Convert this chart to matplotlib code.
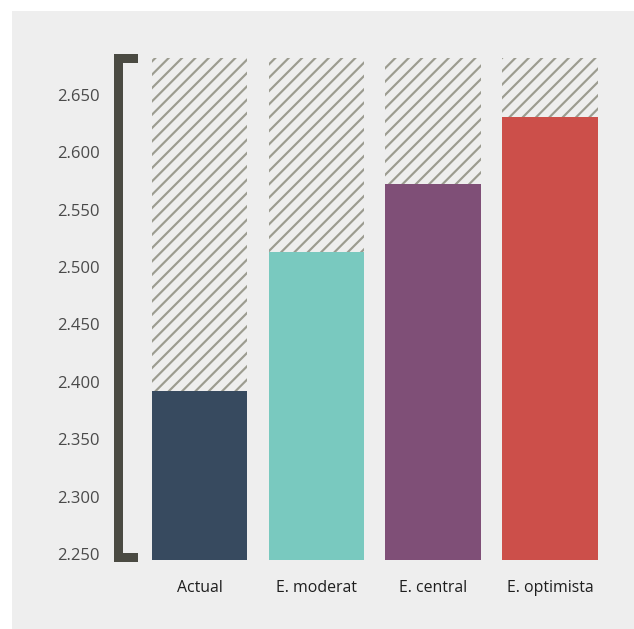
import matplotlib
matplotlib.use("Agg")
import matplotlib.pyplot as plt
from matplotlib.patches import Polygon, Rectangle

categories = ["Actual", "E. moderat", "E. central", "E. optimista"]
values = [2.392, 2.513, 2.5725, 2.631]
cap_value = 2.682
base_value = 2.2448
tick_values = [2.250, 2.300, 2.350, 2.400, 2.450, 2.500, 2.550, 2.600, 2.650]
tick_labels = ["2.250", "2.300", "2.350", "2.400", "2.450", "2.500", "2.550", "2.600", "2.650"]
colors = ["#374a5f", "#79c9bf", "#7f4f77", "#cc4f4a"]

W, H, DPI = 634, 629, 120
plt.rcParams["font.family"] = ["Open Sans", "DejaVu Sans"]
plt.rcParams["hatch.linewidth"] = 1.3
plt.rcParams["hatch.color"] = "#9c9c90"

fig = plt.figure(figsize=(W / DPI, H / DPI), dpi=DPI, facecolor="white")
panel = "#eeeeee"
fig.patches.append(Rectangle((12 / W, 0), 1 - 12 / W, 1 - 11 / H,
                             transform=fig.transFigure, facecolor=panel,
                             edgecolor="none", zorder=-10))

# axes in pixel layout
ax_l, ax_r, ax_t, ax_b = 130, 620, 40, 570
ax = fig.add_axes([ax_l / W, 1 - ax_b / H, (ax_r - ax_l) / W, (ax_b - ax_t) / H])
ax.set_facecolor("none")
s = 116.8
c0 = 199.5
ax.set_xlim((ax_l - c0) / s, (ax_r - c0) / s)
ppu = 1148.0
ax.set_ylim(2.250 - (ax_b - 554) / ppu, 2.250 + (554 - ax_t) / ppu)

x = list(range(len(categories)))
width = 0.818
ax.bar(x, [cap_value - base_value] * len(x), bottom=base_value, width=width,
       facecolor=panel, edgecolor="#9c9c90", linewidth=0, hatch="///", zorder=1)
ax.bar(x, [v - base_value for v in values], bottom=base_value, width=width,
       color=colors, linewidth=0, zorder=2)

for sp in ax.spines.values():
    sp.set_visible(False)
ax.set_yticks(tick_values)
ax.set_yticklabels(tick_labels)
ax.set_xticks(x)
ax.set_xticklabels(categories)
ax.tick_params(axis="y", length=0, pad=18, labelsize=10, labelcolor="#4a4a4a")
ax.tick_params(axis="x", length=0, pad=6, labelsize=9.5, labelcolor="#1e1e1e")

# bracket
pts = [(114, 54), (138, 54), (138, 63), (123, 63), (123, 553), (138, 553),
       (138, 562), (114, 562)]
fig.patches.append(Polygon([(px / W, 1 - py / H) for px, py in pts], closed=True,
                           transform=fig.transFigure, facecolor="#4a4a42",
                           edgecolor="none", zorder=3))

fig.savefig("out.png", dpi=DPI, facecolor="white")
